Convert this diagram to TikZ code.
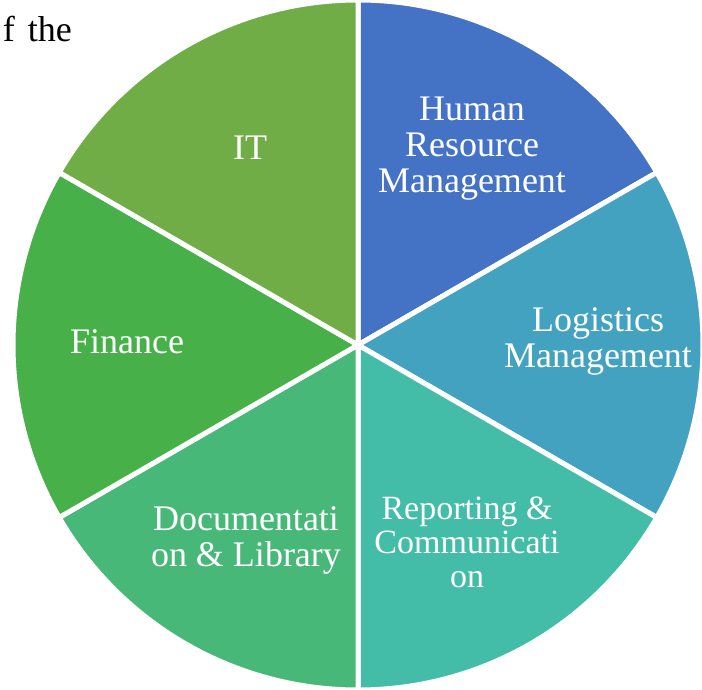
\documentclass[tikz,border=0pt]{standalone}
\usepackage{fontspec}
\setmainfont{Liberation Serif}
\usetikzlibrary{positioning}
\definecolor{hrblue}{RGB}{68,114,196}
\definecolor{logblue}{RGB}{67,162,192}
\definecolor{repteal}{RGB}{68,189,168}
\definecolor{docgreen}{RGB}{72,184,120}
\definecolor{fingreen}{RGB}{71,176,72}
\definecolor{itgreen}{RGB}{112,173,71}
\tikzset{
  sector/.style={draw=white, line width=5pt, line join=round},
  lbl/.style={text=white, align=center, inner sep=0pt, font=\fontsize{36}{36}\selectfont},
}

\begin{document}
\begin{tikzpicture}[x=1pt,y=1pt]
        \useasboundingbox (0,0) rectangle (702,689);
        \coordinate (centre) at (358,344);

        % six equal slices
        \foreach \a/\b/\c in {90/30/hrblue, 30/-30/logblue, -30/-90/repteal,
                              -90/-150/docgreen, -150/-210/fingreen, 150/90/itgreen} {
                \filldraw[sector, fill=\c] (centre) -- ++(\a:345pt)
                        arc[start angle=\a, end angle=\b, radius=345pt] -- cycle;
            }

        \node[lbl] (it) at (250,541) {IT};
        \node[lbl] (hr) at (472,540) {Human\\Resource\\Management};
        \node[lbl] (logistics) at (598,348) {Logistics\\Management};
        \node[lbl] (finance) at (127,347) {Finance};
        \node[lbl] (docs) at (246,149) {Documentati\\on \& Library};
        \node[lbl, font=\fontsize{34}{34}\selectfont] (report) at (467,147) {Reporting \&\\Communicati\\on};

        \node[anchor=base east, inner sep=0pt, font=\fontsize{36}{36}\selectfont] (prev) at (72,647) {f\hspace{13pt}the};
    \end{tikzpicture}
\end{document}
